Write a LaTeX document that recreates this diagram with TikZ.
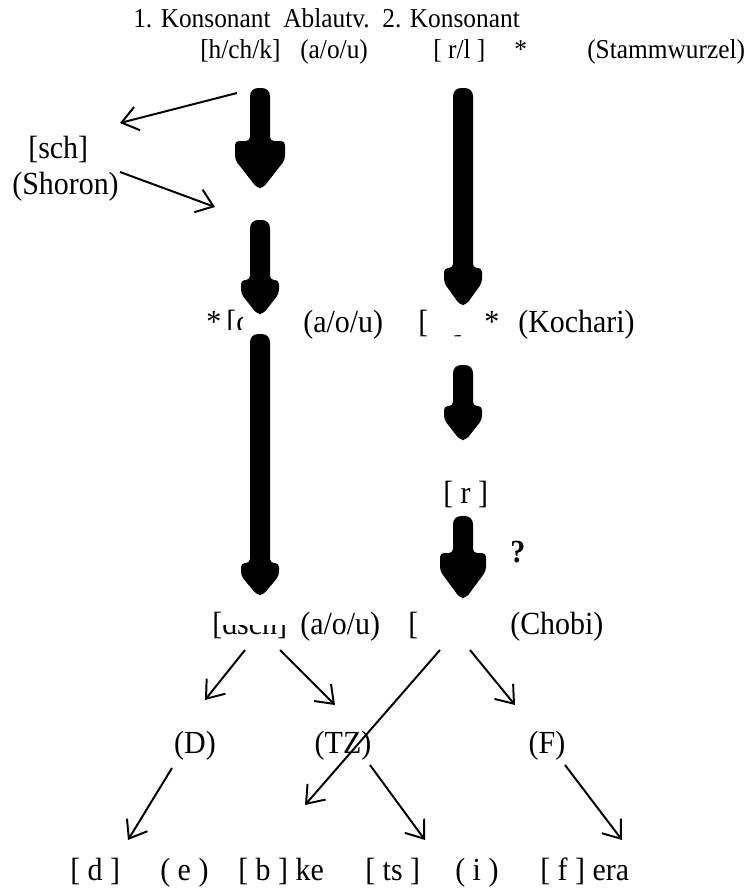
\documentclass[tikz,border=0pt]{standalone}
\usepackage{fontspec}
\setmainfont{Liberation Serif}[FakeStretch=0.93]
\usetikzlibrary{arrows.meta}

\newcommand{\textepetit}{\fontsize{19.4}{22}\selectfont}
\newcommand{\textegrand}{\fontsize{22.9}{26}\selectfont}

% grosse fleche : x, haut, pointe, demi-largeur de la tete, longueur de la tete
\newcommand{\grossefleche}[5]{%
\fill[black] (#1-10,#3-#5) [rounded corners=2mm] -- (#1-10,#2) -- (#1+10,#2)
  [rounded corners=1mm] -- (#1+10,#3-#5) -- (#1+#4,#3-#5) -- (#1+#4,#3-0.6*#5)
  -- (#1+3,#3) -- (#1-3,#3) -- (#1-#4,#3-0.6*#5) -- (#1-#4,#3-#5) -- cycle;}

\tikzset{
  titre/.style={inner sep=0pt, anchor=base west, font=\textepetit},
  mot/.style={inner sep=0pt, anchor=base west, font=\textegrand},
  lettre/.style={inner sep=0pt, anchor=base, font=\textegrand},
  fin/.style={-{Straight Barb[length=4mm,width=6mm]}, line width=1.4pt}
}

\begin{document}
\begin{tikzpicture}[x=0.25mm,y=-0.25mm]
\useasboundingbox (0,0) rectangle (745,888);

% les textes
\node[titre] (titre) at (133,27) {1. Konsonant\ \ Ablautv.\ \ 2. Konsonant};
\node[titre] (hchk) at (200,58) {[h/ch/k]};
\node[titre] (vok_haut) at (300,58) {(a/o/u)};
\node[titre] (rl) at (433,58) {[ r/l ]};
\node[titre] (etoile_haut) at (514,58) {*};
\node[titre] (stamm) at (587,58) {(Stammwurzel)};

\node[mot] (sch) at (28,158) {[sch]};
\node[mot] (shoron) at (12,194) {(Shoron)};

\node[mot] (etoile_g) at (206,332) {*};
\node[mot] (ch) at (226,332) {[ch]};
\node[mot] (vok_milieu) at (303,332) {(a/o/u)};
\node[mot] (r_kochari) at (418,332) {[ r ]};
\node[mot] (etoile_d) at (484,332) {*};
\node[mot] (kochari) at (518,332) {(Kochari)};

\node[mot] (r_seul) at (443,503) {[ r ]};
\node[mot] (question) at (510,562) {\textbf{?}};

\node[mot] (dsch) at (212,634) {[dsch]};
\node[mot] (vok_bas) at (300,634) {(a/o/u)};
\node[mot] (crochet) at (408,634) {[};
\node[mot] (chobi) at (510,634) {(Chobi)};

\node[lettre] (D) at (195,753) {(D)};
\node[lettre] (TZ) at (343,753) {(TZ)};
\node[lettre] (F) at (547,753) {(F)};

\node[mot] (d_bas) at (70,880) {[ d ]};
\node[mot] (e_bas) at (160,880) {( e )};
\node[mot] (bke) at (238,880) {[ b ] ke};
\node[mot] (ts_bas) at (365,880) {[ ts ]};
\node[mot] (i_bas) at (455,880) {( i )};
\node[mot] (fera) at (540,880) {[ f ] era};

% les fonds blancs sous les grosses fleches
\fill[white] (234,84) rectangle (288,196);
\fill[white] (243,214) rectangle (291,345);
\fill[white] (427,84) rectangle (482,335);
\fill[white] (223,330) rectangle (292,625);
\fill[white] (437,360) rectangle (490,450);
\fill[white] (420,510) rectangle (500,648);

% les grosses fleches
\grossefleche{260}{88}{188}{25}{47}
\grossefleche{260}{220}{314}{19}{34}
\grossefleche{463}{88}{305}{19}{37}
\grossefleche{260}{334}{595}{19}{32}
\grossefleche{463}{365}{440}{19}{34}
\grossefleche{463}{516}{598}{23}{45}

% les extremites des fleches fines
\coordinate (c_hchk) at (237,93);
\coordinate (c_sch) at (120,123);
\coordinate (c_shoron) at (120,172);
\coordinate (c_vide) at (215,207);
\coordinate (c_dsch_g) at (245,650);
\coordinate (c_dsch_d) at (280,650);
\coordinate (c_chobi_g) at (440,650);
\coordinate (c_chobi_d) at (470,650);
\coordinate (c_D_haut) at (205,700);
\coordinate (c_TZ_haut) at (335,705);
\coordinate (c_F_haut) at (515,705);
\coordinate (c_D_bas) at (172,768);
\coordinate (c_TZ_bas) at (370,765);
\coordinate (c_F_bas) at (565,765);
\coordinate (c_d) at (128,840);
\coordinate (c_bke) at (305,805);
\coordinate (c_ts) at (425,840);
\coordinate (c_fera) at (622,840);

% les fleches fines
\draw[fin] (c_hchk) -- (c_sch);
\draw[fin] (c_shoron) -- (c_vide);
\draw[fin] (c_dsch_g) -- (c_D_haut);
\draw[fin] (c_dsch_d) -- (c_TZ_haut);
\draw[fin] (c_chobi_g) -- (c_bke);
\draw[fin] (c_chobi_d) -- (c_F_haut);
\draw[fin] (c_D_bas) -- (c_d);
\draw[fin] (c_TZ_bas) -- (c_ts);
\draw[fin] (c_F_bas) -- (c_fera);

\end{tikzpicture}
\end{document}
